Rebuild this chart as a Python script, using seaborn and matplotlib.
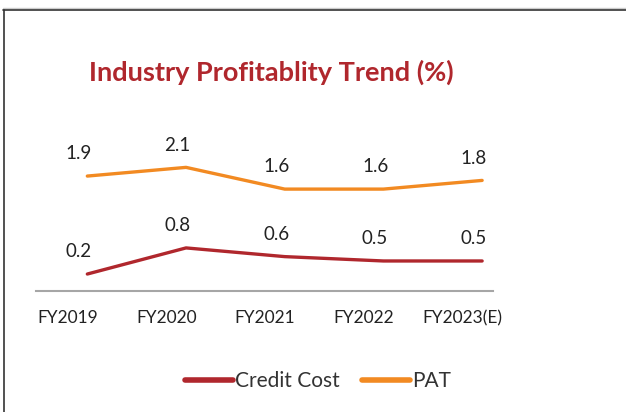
import pandas as pd
import matplotlib.pyplot as plt
import seaborn as sns
from matplotlib.lines import Line2D

sns.set_theme(style="white")
plt.rcParams['font.family'] = ['Lato', 'DejaVu Sans']

years = ['FY2019', 'FY2020', 'FY2021', 'FY2022', 'FY2023(E)']
credit_cost = [0.2, 0.8, 0.6, 0.5, 0.5]
pat = [1.9, 2.1, 1.6, 1.6, 1.8]

RED = '#B0272D'
ORANGE = '#F28A22'

cc_df = pd.DataFrame({'pos': range(len(years)), 'Value': credit_cost})
pat_df = pd.DataFrame({'pos': range(len(years)), 'Value': pat})

fig = plt.figure(figsize=(6.26, 4.12), dpi=100)
ax = fig.add_axes([36 / 626, 1 - 291 / 412, (493 - 36) / 626, (291 - 140) / 412])
ax2 = ax.twinx()  # PAT sits on its own (secondary) scale, as in the original

sns.lineplot(data=cc_df, x='pos', y='Value', color=RED, linewidth=2.4, ax=ax)
sns.lineplot(data=pat_df, x='pos', y='Value', color=ORANGE, linewidth=2.4, ax=ax2)

# value labels above points
for a, vals in [(ax, credit_cost), (ax2, pat)]:
    for i, v in enumerate(vals):
        a.annotate(f'{v:.1f}', (i, v), xytext=(-6, 16), textcoords='offset points',
                   ha='center', va='center', fontsize=13.5, color='#222222')

ax.set_xlim(-0.52, 4.11)
ax.set_ylim(-0.19, 3.28)
ax2.set_ylim(-0.745, 2.73)
# category labels sit a little left of the data points in the original
ax.set_xticks([i - 0.2 for i in range(len(years))])
ax.set_xticklabels(years, fontsize=12.5, color='#222222')
ax.tick_params(axis='x', length=0, pad=14)
for a in (ax, ax2):
    a.set_yticks([])
    a.set_xlabel('')
    a.set_ylabel('')
    for side in ['top', 'right', 'left']:
        a.spines[side].set_visible(False)
    a.patch.set_alpha(0)
ax2.spines['bottom'].set_visible(False)
ax.spines['bottom'].set_color('#A6A6A6')
ax.spines['bottom'].set_linewidth(1.5)

fig.text(271 / 626, 1 - 72 / 412, 'Industry Profitablity Trend (%)', ha='center', va='center',
         fontsize=19.5, fontweight='bold', color=RED)

handles = [Line2D([0], [0], color=RED, lw=4, solid_capstyle='round'),
           Line2D([0], [0], color=ORANGE, lw=4, solid_capstyle='round')]
fig.legend(handles, ['Credit Cost', 'PAT'], loc='center', bbox_to_anchor=(318 / 626, 1 - 381 / 412),
           ncol=2, frameon=False, fontsize=15, handlelength=2.3, handletextpad=0.1,
           columnspacing=1.1, labelcolor='#333333')

# outer frame
fig.add_artist(Line2D([3 / 626, 1], [1 - 8 / 412, 1 - 8 / 412], transform=fig.transFigure,
                      color='#CCCCCC', lw=1))
fig.add_artist(Line2D([3 / 626, 1], [1 - 9.5 / 412, 1 - 9.5 / 412], transform=fig.transFigure,
                      color='#333333', lw=1.2))
fig.add_artist(Line2D([3.5 / 626, 3.5 / 626], [0, 1 - 9.5 / 412], transform=fig.transFigure,
                      color='#333333', lw=1.2))

fig.savefig('out.png', dpi=100)
